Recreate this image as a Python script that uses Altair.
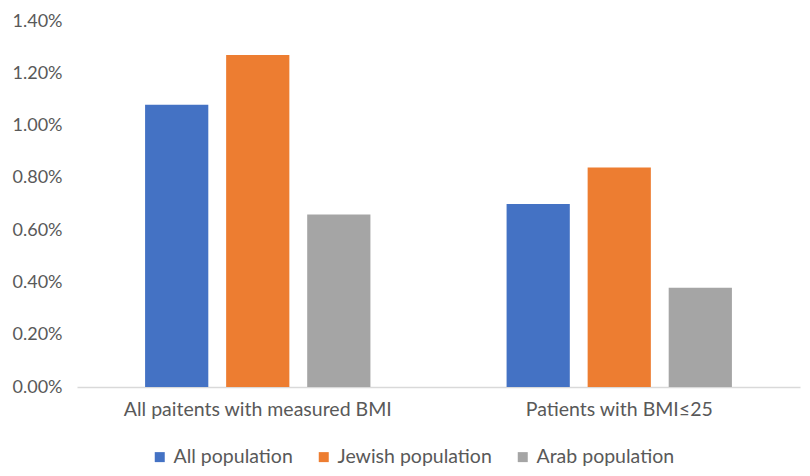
import altair as alt
import pandas as pd

categories = ["All paitents with measured BMI", "Patients with BMI≤25"]
series = ["All population", "Jewish population", "Arab population"]
all_pop = [0.0108, 0.0070]
jewish_pop = [0.0127, 0.0084]
arab_pop = [0.0066, 0.0038]
colors = ["#4472C4", "#ED7D31", "#A5A5A5"]

rows = []
for i, c in enumerate(categories):
    for s, vals in zip(series, [all_pop, jewish_pop, arab_pop]):
        rows.append({"category": c, "series": s, "value": vals[i]})
df = pd.DataFrame(rows)

font = "Lato"
text_color = "#595959"
fs = 19.5

chart = alt.Chart(df).mark_bar().encode(
    x=alt.X("category:N", sort=categories, title=None,
            scale=alt.Scale(paddingInner=0, paddingOuter=0),
            axis=alt.Axis(labelAngle=0, ticks=False, domainColor="#D9D9D9",
                          domainWidth=1.5, labelPadding=13, labelFontSize=fs,
                          labelLimit=0,
                          labelColor=text_color, labelFont=font)),
    xOffset=alt.XOffset("series:N", sort=series,
                        scale=alt.Scale(paddingInner=0.22, paddingOuter=0.84)),
    y=alt.Y("value:Q", title=None,
            scale=alt.Scale(domain=[0, 0.014]),
            axis=alt.Axis(format=".2%", values=[0, 0.002, 0.004, 0.006, 0.008, 0.010, 0.012, 0.014],
                          grid=False, domain=False, ticks=False, labelPadding=15,
                          labelFontSize=18, labelColor=text_color, labelFont=font)),
    color=alt.Color("series:N", sort=series,
                    scale=alt.Scale(domain=series, range=colors),
                    legend=alt.Legend(title=None, orient="none", direction="horizontal",
                                      legendX=73, legendY=426, symbolType="square",
                                      symbolSize=100, symbolStrokeWidth=0,
                                      labelFontSize=fs, labelColor=text_color,
                                      labelFont=font, columnPadding=21, labelOffset=4)),
).properties(
    width=723, height=366,
    padding={"left": 69, "top": 13, "right": 2, "bottom": 85},
    autosize=alt.AutoSizeParams(type="none"),
).configure_view(stroke=None)

chart.save("out.html", embed_options={"renderer": "svg", "actions": False})
